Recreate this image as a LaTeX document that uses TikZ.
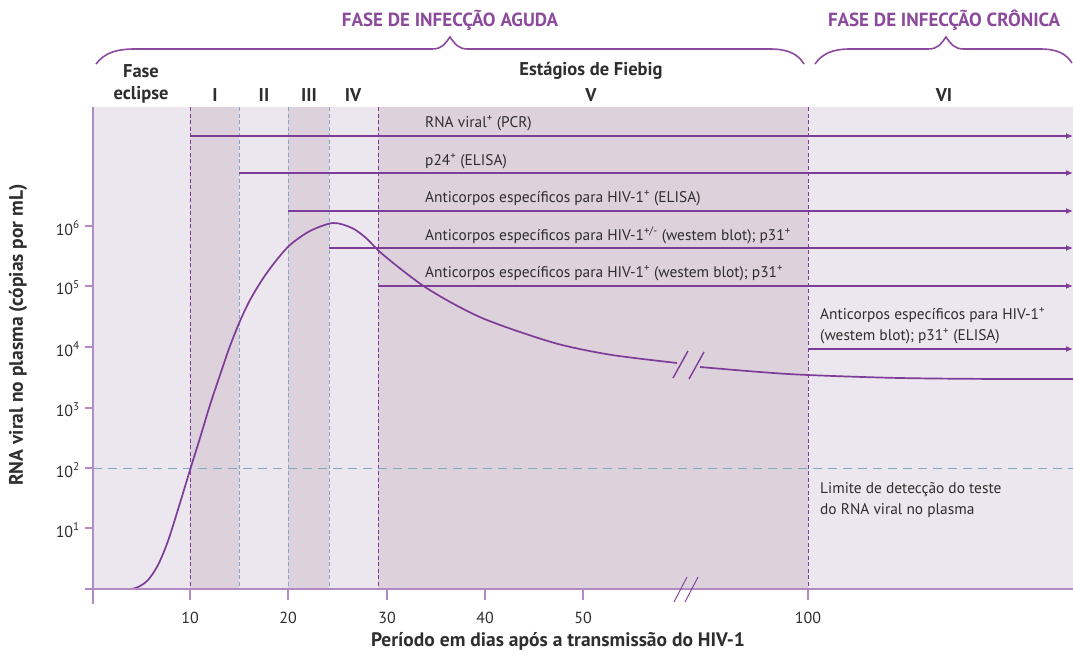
\documentclass[tikz,border=0pt]{standalone}
\usepackage{fontspec}
\setmainfont{PT Sans}
\usetikzlibrary{arrows.meta}
\definecolor{roxo}{HTML}{7D3C98}
\definecolor{roxoclaro}{HTML}{B48AC4}
\definecolor{titulo}{HTML}{8B4A9C}
\definecolor{fundoclaro}{HTML}{ECE7EE}
\definecolor{fundoescuro}{HTML}{DDD1DC}
\definecolor{azul}{HTML}{7FA6C4}
\definecolor{texto}{HTML}{2E2E2E}
\begin{document}
\begin{tikzpicture}[x=1pt,y=-1pt,
  marca/.style={draw=roxo,line width=1.3pt,-{Latex[length=7pt,width=6pt]}},
  rotulo/.style={anchor=base west,inner sep=0pt,text=texto,font=\fontsize{15.4}{15.4}\selectfont},
  estagio/.style={inner sep=0pt,text=texto,font=\fontsize{18.5}{18.5}\selectfont\bfseries},
  fase/.style={inner sep=0pt,text=titulo,font=\fontsize{19}{19}\selectfont\bfseries},
  chave/.style={draw=titulo,line width=1.6pt},
  tracoroxo/.style={draw=roxo,line width=1pt,dash pattern=on 4pt off 2.5pt},
  tracoazul/.style={draw=azul,line width=0.9pt,dash pattern=on 4pt off 2.5pt},
  eixo/.style={draw=roxoclaro,line width=1.4pt},
  ytick/.style={anchor=east,inner sep=0pt,text=texto,font=\fontsize{16}{16}\selectfont},
  xtick/.style={anchor=base,inner sep=0pt,text=texto,font=\fontsize{16}{16}\selectfont}]
\useasboundingbox (0,0) rectangle (1073,654);
% faixas dos estagios
\fill[fundoclaro] (93,107) rectangle (1073,589);
\fill[fundoescuro] (190,107) rectangle (239,589);
\fill[fundoescuro] (288,107) rectangle (329,589);
\fill[fundoescuro] (378,107) rectangle (808,589);
\draw[tracoroxo] (190,107) -- (190,589);
\draw[tracoazul] (239,107) -- (239,589);
\draw[tracoazul] (288,107) -- (288,589);
\draw[tracoazul] (329,107) -- (329,589);
\draw[tracoroxo] (378,107) -- (378,589);
\draw[tracoroxo] (808,107) -- (808,589);
% chaves das fases
\draw[chave] (96,64) .. controls (105,52) and (118,49) .. (135,49) -- (432,49)
  .. controls (442,49) and (445,44) .. (450,37) .. controls (455,44) and (458,49) .. (468,49)
  -- (770,49) .. controls (788,49) and (798,54) .. (804,64);
\draw[chave] (815,64) .. controls (822,54) and (832,49) .. (850,49) -- (928,49)
  .. controls (938,49) and (941,44) .. (946,37) .. controls (951,44) and (954,49) .. (964,49)
  -- (1040,49) .. controls (1058,49) and (1066,54) .. (1072,63);
\node[fase] (aguda) at (450,20) {FASE DE INFECÇÃO AGUDA};
\node[fase] (cronica) at (944,20) {FASE DE INFECÇÃO CRÔNICA};
% estagios de Fiebig
\node[estagio] (fase) at (141,71) {Fase};
\node[estagio] (eclipse) at (141,95) {eclipse};
\node[estagio] (um) at (215,95) {I};
\node[estagio] (dois) at (264,95) {II};
\node[estagio] (tres) at (309,95) {III};
\node[estagio] (quatro) at (353,95) {IV};
\node[estagio] (fiebig) at (591,71) {Estágios de Fiebig};
\node[estagio] (cinco) at (591,95) {V};
\node[estagio] (seis) at (944,95) {VI};
% limite de deteccao
\coordinate (limA) at (93,468);
\coordinate (limB) at (1073,468);
\draw[draw=azul,line width=0.9pt,dash pattern=on 9pt off 6pt] (limA) -- (limB);
\node[rotulo] (limite1) at (820,493) {Limite de detecção do teste};
\node[rotulo] (limite2) at (820,514) {do RNA viral no plasma};
% marcadores
\coordinate (pcrA) at (190,136); \coordinate (pcrB) at (1073,136);
\coordinate (p24A) at (239,173); \coordinate (p24B) at (1073,173);
\coordinate (elisaA) at (288,211); \coordinate (elisaB) at (1073,211);
\coordinate (wbA) at (329,248); \coordinate (wbB) at (1073,248);
\coordinate (wbpA) at (378,286); \coordinate (wbpB) at (1073,286);
\coordinate (cronA) at (808,349); \coordinate (cronB) at (1073,349);
\draw[marca] (pcrA) -- (pcrB);
\draw[marca] (p24A) -- (p24B);
\draw[marca] (elisaA) -- (elisaB);
\draw[marca] (wbA) -- (wbB);
\draw[marca] (wbpA) -- (wbpB);
\draw[marca] (cronA) -- (cronB);
\node[rotulo] (pcr) at (425,127) {RNA viral\textsuperscript{+} (PCR)};
\node[rotulo] (p24) at (425,165) {p24\textsuperscript{+} (ELISA)};
\node[rotulo] (elisa) at (425,202) {Anticorpos específicos para HIV-1\textsuperscript{+} (ELISA)};
\node[rotulo] (wb) at (425,240) {Anticorpos específicos para HIV-1\textsuperscript{+/-} (westem blot); p31\textsuperscript{+}};
\node[rotulo] (wbp) at (425,277) {Anticorpos específicos para HIV-1\textsuperscript{+} (westem blot); p31\textsuperscript{+}};
\node[rotulo] (cron1) at (820,319) {Anticorpos específicos para HIV-1\textsuperscript{+}};
\node[rotulo] (cron2) at (820,340) {(westem blot); p31\textsuperscript{+} (ELISA)};
% carga viral
\draw[roxo,line width=1.7pt] plot[smooth,tension=0.5] coordinates {(93,589) (128,589) (138,587)
  (148,580) (158,565) (168,541) (180,503) (190,470) (200,438) (210,405) (220,375) (230,346)
  (240,321) (250,300) (262,280) (275,262) (290,245) (310,231) (333,223) (352,228) (366,238)
  (380,252) (402,270) (425,287) (452,303) (482,318) (520,332) (562,345) (612,355) (677,363)};
\draw[roxo,line width=1.7pt] plot[smooth,tension=0.55] coordinates {(700,367) (760,372)
  (808,375) (900,378) (1000,379) (1073,379)};
\draw[roxo,line width=1.4pt] (673,378) -- (688,351);
\draw[roxo,line width=1.4pt] (689,379) -- (704,352);
% eixos
\draw[eixo] (93,107) -- (93,604);
\draw[eixo] (85,589) -- (1073,589);
\draw[eixo] (190,589) -- (190,600);
\draw[eixo] (288,589) -- (288,600);
\draw[eixo] (387,589) -- (387,600);
\draw[eixo] (485,589) -- (485,600);
\draw[eixo] (583,589) -- (583,600);
\draw[eixo] (808,589) -- (808,600);
\draw[roxo,line width=0.9pt] (674,602) -- (687,577);
\draw[roxo,line width=0.9pt] (685,602) -- (698,577);
\draw[eixo] (85,226) -- (93,226);
\draw[eixo] (85,286) -- (93,286);
\draw[eixo] (85,347) -- (93,347);
\draw[eixo] (85,408) -- (93,408);
\draw[eixo] (85,468) -- (93,468);
\draw[eixo] (85,528) -- (93,528);
\node[ytick] (y6) at (80,228) {10\textsuperscript{6}};
\node[ytick] (y5) at (80,288) {10\textsuperscript{5}};
\node[ytick] (y4) at (80,349) {10\textsuperscript{4}};
\node[ytick] (y3) at (80,410) {10\textsuperscript{3}};
\node[ytick] (y2) at (80,470) {10\textsuperscript{2}};
\node[ytick] (y1) at (80,530) {10\textsuperscript{1}};
\node[xtick] (x10) at (190,623) {10};
\node[xtick] (x20) at (288,623) {20};
\node[xtick] (x30) at (387,623) {30};
\node[xtick] (x40) at (485,623) {40};
\node[xtick] (x50) at (583,623) {50};
\node[xtick] (x100) at (808,623) {100};
\node[estagio,font=\fontsize{19.5}{19.5}\selectfont\bfseries] (xlabel) at (558,641) {Período em dias após a transmissão do HIV-1};
\node[estagio,rotate=90,font=\fontsize{19.5}{19.5}\selectfont\bfseries] (ylabel) at (18,335) {RNA viral no plasma (cópias por mL)};
\end{tikzpicture}
\end{document}
